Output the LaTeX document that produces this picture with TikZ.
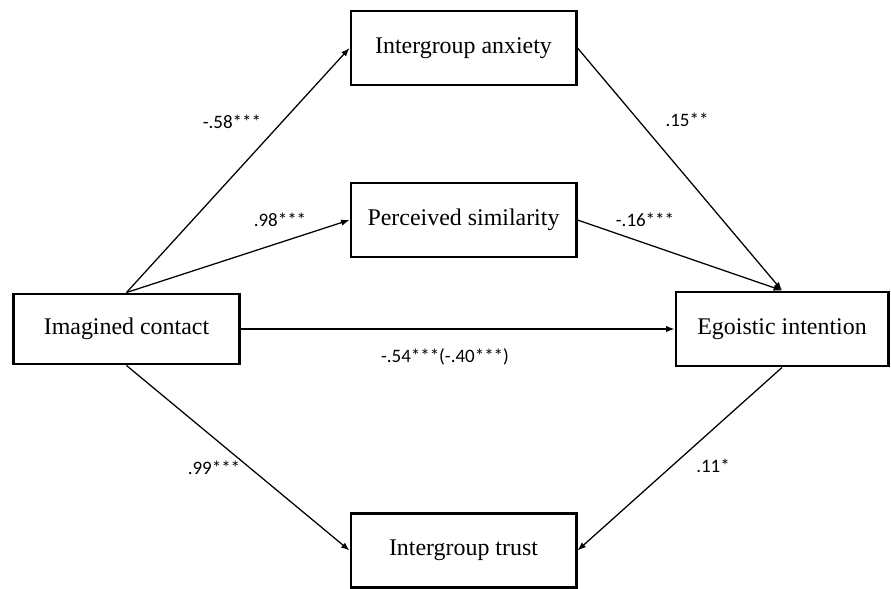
\documentclass[tikz,border=0pt]{standalone}
\usepackage{fontspec}
\setmainfont{Liberation Serif}
\newfontfamily\coeffont{Carlito}
\usetikzlibrary{arrows.meta}

\begin{document}
\begin{tikzpicture}[x=0.025cm,y=-0.025cm,
    var/.style={draw,line width=2.1pt,minimum width=5.625cm,minimum height=1.85cm,inner sep=0pt,font=\fontsize{17}{20}\selectfont},
    link/.style={line width=0.9pt,-{Latex[length=6pt,width=4.5pt]}},
    coef/.style={font=\coeffont\fontsize{13.5}{16}\selectfont}]
    \useasboundingbox (0,0) rectangle (891,589);
    % variables
    \node[var] (anx) at (463.5,48) {Intergroup anxiety};
    \node[var] (sim) at (463.5,220) {Perceived similarity};
    \node[var,minimum height=1.75cm] (ic) at (126.5,329) {Imagined contact};
    \node[var,minimum width=5.3cm] (ego) at (782,329) {Egoistic intention};
    \node[var] (trust) at (463.5,550.5) {Intergroup trust};
    % paths
    \draw[link] (ic.north) -- (anx.west);
    \draw[link] (ic.north) -- (sim.west);
    \draw[link] (anx.east) -- (ego.north);
    \draw[link] (sim.east) -- (ego.north);
    \draw[link] (ic.east) -- (ego.west);
    \draw[link] (ic.south) -- (trust.west);
    \draw[link] (ego.south) -- (trust.east);
    % coefficients
    \node[coef] (c58) at (232,122) {-.58***};
    \node[coef] (c98) at (280,220) {.98***};
    \node[coef] (c15) at (687,120) {.15**};
    \node[coef] (c16) at (645,220) {-.16***};
    \node[coef] (c54) at (445,357) {-.54***(-.40***)};
    \node[coef] (c99) at (214,468) {.99***};
    \node[coef] (c11) at (713,466) {.11*};
\end{tikzpicture}
\end{document}
